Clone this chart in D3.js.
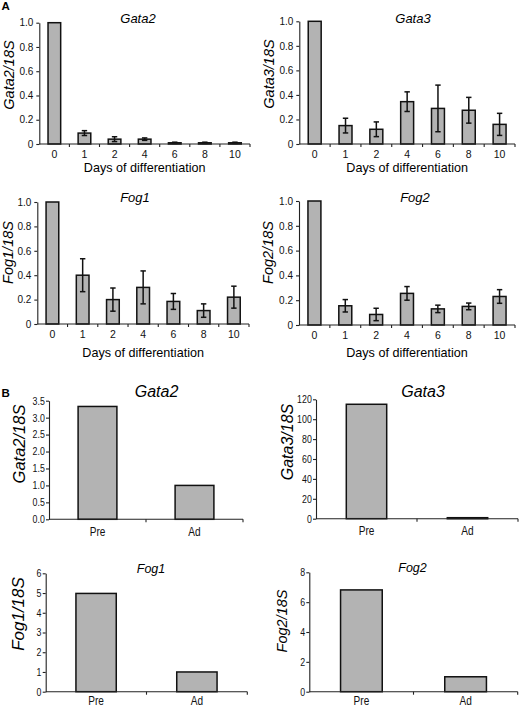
<!DOCTYPE html>
<html>
<head>
<meta charset="utf-8">
<script src="https://cdn.jsdelivr.net/npm/d3@7/dist/d3.min.js"></script>
<style>
  html, body { margin: 0; padding: 0; background: #fff; }
  svg { display: block; }
</style>
</head>
<body>
<svg id="chart" width="520" height="710"></svg>
<script>
// ---------------- DATA ----------------
const dayLabels = ["0", "1", "2", "4", "6", "8", "10"];

const gata2Days    = [1.0, 0.09, 0.04, 0.04, 0.01, 0.01, 0.01];
const gata2DaysErr = [0, 0.02, 0.02, 0.01, 0.005, 0.005, 0.005];
const gata3Days    = [1.0, 0.15, 0.12, 0.345, 0.29, 0.275, 0.16];
const gata3DaysErr = [0, 0.06, 0.06, 0.08, 0.19, 0.105, 0.09];
const fog1Days     = [1.0, 0.40, 0.20, 0.30, 0.185, 0.11, 0.22];
const fog1DaysErr  = [0, 0.135, 0.095, 0.135, 0.065, 0.055, 0.09];
const fog2Days     = [1.0, 0.155, 0.085, 0.255, 0.13, 0.15, 0.23];
const fog2DaysErr  = [0, 0.05, 0.05, 0.055, 0.03, 0.027, 0.055];

const dayTicks = [0, 0.2, 0.4, 0.6, 0.8, 1.0];

const cellLabels = ["Pre", "Ad"];
const gata2Cells = [3.33, 1.0];
const gata3Cells = [115, 1.0];
const fog1Cells  = [4.98, 1.0];
const fog2Cells  = [6.82, 1.0];

const gata2CellTicks = [0, 0.5, 1.0, 1.5, 2.0, 2.5, 3.0, 3.5];
const gata3CellTicks = [0, 20, 40, 60, 80, 100, 120];
const fog1CellTicks  = [0, 1, 2, 3, 4, 5, 6];
const fog2CellTicks  = [0, 2, 4, 6, 8];

// ---------------- DRAWING ----------------
const svg = d3.select("#chart");
const SANS = "'Liberation Sans', Arial, Helvetica, sans-serif";
const FILL = "#b3b3b3";

svg.append("text").attr("x", 1.5).attr("y", 10).text("A")
  .attr("font-family", SANS).attr("font-weight", "bold").attr("font-size", 11.5);
svg.append("text").attr("x", 1.5).attr("y", 397).text("B")
  .attr("font-family", SANS).attr("font-weight", "bold").attr("font-size", 11.5);

function panel(o) {
  const g = svg.append("g");
  const x = d3.scaleBand().domain(o.cats).range([o.x0, o.x1]).padding(0);
  const y = d3.scaleLinear().domain([0, o.max]).range([o.yb, o.yt]);
  const bw = x.bandwidth() * o.barRatio;

  // y axis
  const ya = g.append("g").attr("transform", `translate(${o.x0},0)`)
    .call(d3.axisLeft(y).tickValues(o.ticks).tickSize(3).tickSizeOuter(0)
      .tickPadding(o.tickPad).tickFormat(o.fmt));
  ya.select(".domain").attr("stroke", "#222").attr("stroke-width", 1.1);
  ya.selectAll(".tick line").attr("stroke", "#222").attr("stroke-width", 1.1);
  ya.selectAll(".tick text").attr("font-family", SANS)
    .attr("font-size", o.tickSize).attr("fill", "#111")
    .attr("transform", `scale(${o.squeeze},1)`);

  // bars
  g.selectAll("rect.bar").data(o.vals).enter().append("rect")
    .attr("class", "bar")
    .attr("x", (d, i) => x(o.cats[i]) + (x.bandwidth() - bw) / 2)
    .attr("width", bw)
    .attr("y", d => y(d))
    .attr("height", d => Math.max(0, y(0) - y(d)))
    .attr("fill", FILL).attr("stroke", "#111").attr("stroke-width", 1.5);

  // error bars
  if (o.errs) {
    const eg = g.append("g").attr("stroke", "#111").attr("stroke-width", 1.5);
    o.vals.forEach((v, i) => {
      const e = o.errs[i];
      if (!e) return;
      const cx = x(o.cats[i]) + x.bandwidth() / 2;
      const cw = 2.7;
      eg.append("line").attr("x1", cx).attr("x2", cx).attr("y1", y(v - e)).attr("y2", y(v + e));
      eg.append("line").attr("x1", cx - cw).attr("x2", cx + cw).attr("y1", y(v + e)).attr("y2", y(v + e));
      eg.append("line").attr("x1", cx - cw).attr("x2", cx + cw).attr("y1", y(v - e)).attr("y2", y(v - e));
    });
  }

  // x axis: line + boundary ticks
  g.append("line").attr("x1", o.x0).attr("x2", o.x1).attr("y1", o.yb).attr("y2", o.yb)
    .attr("stroke", "#222").attr("stroke-width", 1.1);
  o.cats.forEach((c, i) => {
    const bx = x(c) + x.step();
    g.append("line").attr("x1", bx).attr("x2", bx).attr("y1", o.yb).attr("y2", o.yb + 3)
      .attr("stroke", "#222").attr("stroke-width", 1.1);
  });
  const xa = g.append("g").attr("transform", `translate(0,${o.yb})`)
    .call(d3.axisBottom(x).tickSize(0).tickPadding(o.xPad));
  xa.select(".domain").remove();
  xa.selectAll(".tick text").attr("font-family", SANS)
    .attr("font-size", o.xSize).attr("fill", "#111")
    .attr("transform", `scale(${o.squeeze},1)`);

  // title
  g.append("text").attr("x", o.tx).attr("y", o.ty).attr("text-anchor", "middle")
    .attr("font-family", SANS).attr("font-style", "italic").attr("font-size", o.titleSize)
    .text(o.title);
  // y label
  g.append("text").attr("transform", `translate(${o.lx},${o.ly}) rotate(-90)`)
    .attr("text-anchor", "middle").attr("font-family", SANS).attr("font-style", "italic")
    .attr("font-size", o.labelSize).text(o.title + "/18S");
  // x title
  if (o.xTitle) {
    g.append("text").attr("x", (o.x0 + o.x1) / 2).attr("y", o.xty).attr("text-anchor", "middle")
      .attr("font-family", SANS).attr("font-size", 12.6).text(o.xTitle);
  }
}

const fmtA = d => d === 0 ? "0" : d3.format(".1f")(d);
const baseA = { cats: dayLabels, max: 1.0, ticks: dayTicks, fmt: fmtA, barRatio: 0.42,
  tickPad: 3, tickSize: 10, xSize: 10.5, xPad: 7, squeeze: 1,
  titleSize: 13, labelSize: 14.5, xTitle: "Days of differentiation" };

panel(Object.assign({}, baseA, { title: "Gata2", vals: gata2Days, errs: gata2DaysErr,
  x0: 39.3, x1: 250, yt: 22.7, yb: 144, tx: 138, ty: 22.5, lx: 14, ly: 75, xty: 172 }));
panel(Object.assign({}, baseA, { title: "Gata3", vals: gata3Days, errs: gata3DaysErr,
  x0: 299.3, x1: 515, yt: 21.3, yb: 144, tx: 413, ty: 22.5, lx: 273.5, ly: 74, xty: 172 }));
panel(Object.assign({}, baseA, { title: "Fog1", vals: fog1Days, errs: fog1DaysErr,
  x0: 37.3, x1: 249, yt: 202, yb: 324, tx: 135, ty: 202, lx: 13, ly: 252.5, xty: 357 }));
panel(Object.assign({}, baseA, { title: "Fog2", vals: fog2Days, errs: fog2DaysErr,
  x0: 299, x1: 515, yt: 201, yb: 325, tx: 415, ty: 202, lx: 273, ly: 252.5, xty: 357 }));

const baseB = { cats: cellLabels, barRatio: 0.4, tickPad: 2, tickSize: 10.5,
  xSize: 12, xPad: 8, squeeze: 0.84 };

panel(Object.assign({}, baseB, { title: "Gata2", vals: gata2Cells, max: 3.5, ticks: gata2CellTicks,
  fmt: d3.format(".1f"), x0: 49, x1: 243, yt: 400.7, yb: 519.3, tx: 156.5, ty: 397,
  titleSize: 16, lx: 25, ly: 444, labelSize: 16.5 }));
panel(Object.assign({}, baseB, { title: "Gata3", vals: gata3Cells, max: 120, ticks: gata3CellTicks,
  fmt: d3.format("d"), x0: 316, x1: 518, yt: 399.3, yb: 518.7, tx: 423, ty: 397,
  titleSize: 16, lx: 293, ly: 442, labelSize: 16 }));
panel(Object.assign({}, baseB, { title: "Fog1", vals: fog1Cells, max: 6, ticks: fog1CellTicks,
  fmt: d3.format("d"), x0: 45.7, x1: 247.3, yt: 573.3, yb: 691.7, tx: 151, ty: 573,
  titleSize: 12.5, lx: 23.5, ly: 614, labelSize: 17, xPad: 5 }));
panel(Object.assign({}, baseB, { title: "Fog2", vals: fog2Cells, max: 8, ticks: fog2CellTicks,
  fmt: d3.format("d"), x0: 309.3, x1: 517.7, yt: 572.3, yb: 691.7, tx: 412.5, ty: 572,
  titleSize: 12.5, lx: 287, ly: 621, labelSize: 14.5, xPad: 5 }));
</script>
</body>
</html>
